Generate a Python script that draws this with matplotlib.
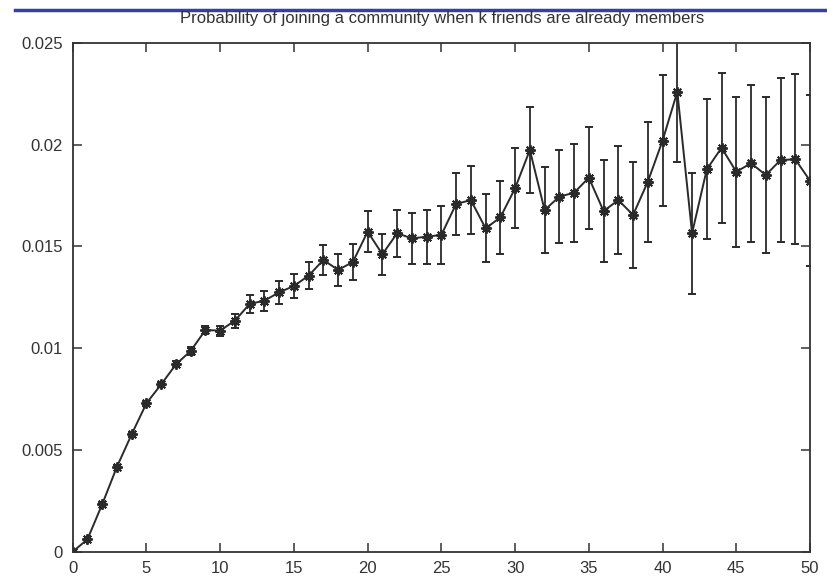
import matplotlib
matplotlib.use("Agg")
import matplotlib.pyplot as plt
from matplotlib.lines import Line2D
from matplotlib.ticker import MultipleLocator, FormatStrFormatter

# k = number of friends already in the community
k_friends = list(range(0, 51))

join_prob = [
    0.0, 0.00061, 0.00233, 0.00417, 0.00577, 0.00729, 0.00822, 0.0092, 0.00986, 0.01089,
    0.01086, 0.01135, 0.01217, 0.01233, 0.01274, 0.01305, 0.01356, 0.01433, 0.01384, 0.01423,
    0.01572, 0.01461, 0.01564, 0.01539, 0.01547, 0.01556, 0.01708, 0.01727, 0.01588, 0.01642,
    0.01785, 0.01973, 0.01678, 0.01744, 0.01763, 0.01837, 0.01673, 0.01727, 0.01654, 0.01817,
    0.02019, 0.02259, 0.01564, 0.01878, 0.01984, 0.01866, 0.01908, 0.0185, 0.01924, 0.01927,
    0.01822,
]

join_err = [
    0.0, 0.00003, 0.00005, 0.00007, 0.00009, 0.0001, 0.00012, 0.00015, 0.0002, 0.00022,
    0.00025, 0.00034, 0.00044, 0.00049, 0.00055, 0.0006, 0.00068, 0.00073, 0.00078, 0.00088,
    0.001, 0.001, 0.00115, 0.00124, 0.00133, 0.00142, 0.00152, 0.00166, 0.00167, 0.0018,
    0.00197, 0.00213, 0.00211, 0.00227, 0.0024, 0.0025, 0.0025, 0.00267, 0.00262, 0.00294,
    0.00323, 0.00347, 0.00297, 0.00344, 0.00368, 0.00368, 0.00385, 0.00382, 0.00405, 0.00418,
    0.0042,
]

title = "Probability of joining a community when k friends are already members"

plt.rcParams['font.family'] = ['Liberation Sans', 'DejaVu Sans']

fig = plt.figure(figsize=(8.28, 5.77), dpi=100)
ax = fig.add_axes([0.0878, 0.0438, 0.8905, 0.8822])

ink = '#2a2a2a'
ax.errorbar(k_friends, join_prob, yerr=join_err, color=ink, ecolor=ink,
            linewidth=1.4, elinewidth=1.3, capsize=3, capthick=1.3,
            marker=(8, 2, 0), markersize=7.5, markeredgewidth=1.4,
            markeredgecolor=ink)

ax.set_xlim(0, 50)
ax.set_ylim(0, 0.025)
ax.xaxis.set_major_locator(MultipleLocator(5))
ax.yaxis.set_major_locator(MultipleLocator(0.005))
ax.yaxis.set_major_formatter(FormatStrFormatter('%g'))
ax.tick_params(direction='in', length=6.5, width=1.1, top=True, right=True,
               labelsize=12, pad=7, colors='#333333')
for s in ax.spines.values():
    s.set_linewidth(1.3)
    s.set_color('#333333')

fig.text(0.5339, 1 - 23 / 577, title, ha='center', va='baseline',
         fontsize=12, color='#333333')

# blue rule at the top of the slide
fig.add_artist(Line2D([15 / 828, 1.0], [1 - 10 / 577, 1 - 10 / 577],
                      transform=fig.transFigure, color='#3b3f9c', linewidth=2.5))

fig.savefig("out.png", dpi=100)
